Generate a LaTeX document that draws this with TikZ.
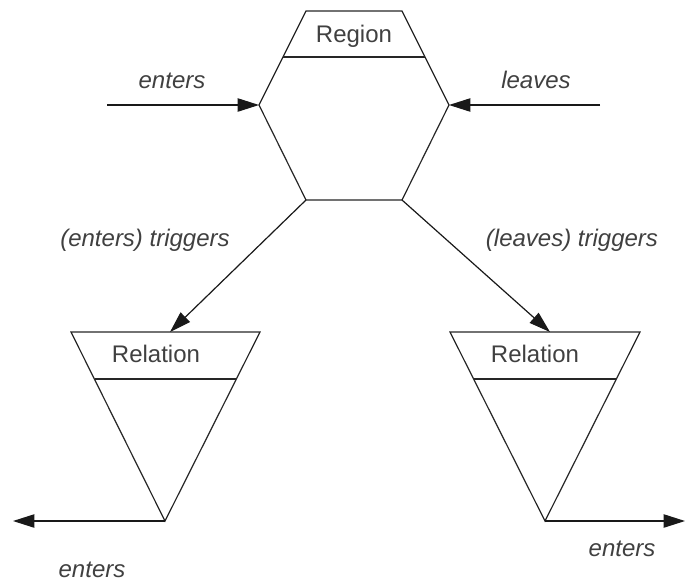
\documentclass[tikz,border=0pt]{standalone}
\usepackage{fontspec}
\setmainfont{Liberation Sans}
\usetikzlibrary{arrows.meta}
\begin{document}
\begin{tikzpicture}[x=0.75pt,y=-0.75pt,
  outline/.style={draw=black!85, line width=0.9pt, line join=miter},
  lbl/.style={font=\fontsize{18}{20}\selectfont\itshape, text=black!75, anchor=base, inner sep=0pt},
  ttl/.style={font=\fontsize{18}{20}\selectfont, text=black!75, anchor=base, inner sep=0pt},
  arr/.style={draw=black!90, line width=0.9pt, -{Triangle[length=16pt,width=10pt]}}]
\useasboundingbox (0,0) rectangle (685,583);
% Region hexagon
\coordinate (hTL) at (306,11);
\coordinate (hTR) at (402,11);
\coordinate (hML) at (283,57);
\coordinate (hMR) at (425,57);
\coordinate (hL) at (259,105);
\coordinate (hR) at (449,105);
\coordinate (hBL) at (306,200);
\coordinate (hBR) at (402,200);
\draw[outline] (hTL) -- (hTR) -- (hR) -- (hBR) -- (hBL) -- (hL) -- cycle;
\draw[outline] (hML) -- (hMR);
\node[ttl] (region) at (354,42) {Region};
% Left relation
\coordinate (lA) at (71,332);
\coordinate (lB) at (260,332);
\coordinate (lApex) at (165,521);
\coordinate (lM1) at (95,379);
\coordinate (lM2) at (236,379);
\draw[outline] (lA) -- (lB) -- (lApex) -- cycle;
\draw[outline] (lM1) -- (lM2);
\node[ttl] (rel1) at (156,362) {Relation};
\coordinate (lIn) at (170,332);
% Right relation
\coordinate (rA) at (450,332);
\coordinate (rB) at (640,332);
\coordinate (rApex) at (545,521);
\coordinate (rM1) at (474,379);
\coordinate (rM2) at (616,379);
\draw[outline] (rA) -- (rB) -- (rApex) -- cycle;
\draw[outline] (rM1) -- (rM2);
\node[ttl] (rel2) at (535,362) {Relation};
\coordinate (rIn) at (550,332);
% incoming arrows
\coordinate (enStart) at (107,105);
\coordinate (lvStart) at (600,105);
\draw[arr] (enStart) -- (hL);
\draw[arr] (lvStart) -- (hR);
\node[lbl] (enters1) at (172,88) {enters};
\node[lbl] (leaves1) at (536,88) {leaves};
% trigger arrows
\draw[arr] (hBL) -- (lIn);
\draw[arr] (hBR) -- (rIn);
\node[lbl] (trig1) at (145,246) {(enters) triggers};
\node[lbl] (trig2) at (572,246) {(leaves) triggers};
% outgoing arrows
\coordinate (lOut) at (13,521);
\coordinate (rOut) at (685,521);
\draw[arr] (lApex) -- (lOut);
\draw[arr] (rApex) -- (rOut);
\node[lbl] (enters2) at (92,577) {enters};
\node[lbl] (enters3) at (622,556) {enters};
\end{tikzpicture}
\end{document}
